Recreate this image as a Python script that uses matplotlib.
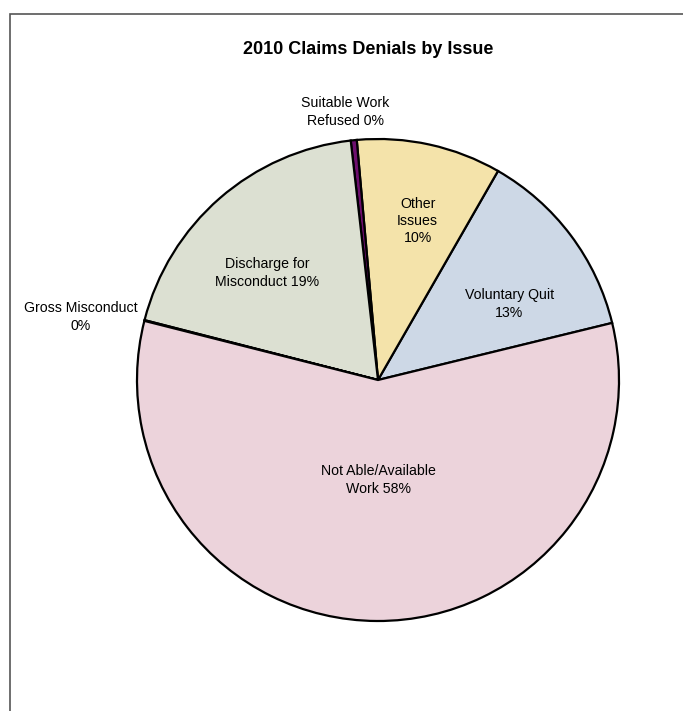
import numpy as np
import matplotlib.pyplot as plt
from matplotlib.patches import Rectangle

plt.rcParams['font.family'] = ['Liberation Sans Narrow', 'Liberation Sans', 'DejaVu Sans']

categories = ["Voluntary Quit", "Other Issues", "Suitable Work Refused", "Discharge for Misconduct",
              "Gross Misconduct", "Not Able/Available Work"]
values = [12.9, 9.7, 0.4, 19.2, 0.05, 57.75]
labels = ["Voluntary Quit\n13%", "Other\nIssues\n10%", "Suitable Work\nRefused 0%",
          "Discharge for\nMisconduct 19%", "Gross Misconduct\n0%", "Not Able/Available\nWork 58%"]
colors = ["#cdd8e6", "#f4e3aa", "#6e0f6e", "#dce0d2", "#7a7a7a", "#ecd3db"]

# label placement (radius, angle in degrees)
label_pos = [(0.63, 30), (0.68, 76), (1.12, 97), (0.64, 136), (1.26, 168), (0.415, 270)]

fig = plt.figure(figsize=(6.83, 7.11), dpi=100)
fig.patches.append(Rectangle((10 / 683, -0.01), 1.0, (711 - 14) / 711 + 0.01, transform=fig.transFigure,
                             fill=False, edgecolor="#555555", linewidth=1.2))

ax = fig.add_axes([(378 - 241) / 683, (711 - 380 - 241) / 711, 482 / 683, 482 / 711])
ax.pie(values, colors=colors, startangle=13.7, counterclock=True,
       wedgeprops=dict(edgecolor="black", linewidth=1.6))
ax.set_xlim(-1, 1)
ax.set_ylim(-1, 1)
ax.set_aspect("equal")
ax.axis("off")

for lab, (r, a) in zip(labels, label_pos):
    t = np.deg2rad(a)
    ax.text(r * np.cos(t), r * np.sin(t), lab, ha="center", va="center", fontsize=10.2,
            linespacing=1.3, clip_on=False)

fig.text(368 / 683, 1 - 50 / 711, "2010 Claims Denials by Issue", ha="center", va="center",
         fontsize=13, fontweight="bold")

fig.savefig("out.png", dpi=100)
